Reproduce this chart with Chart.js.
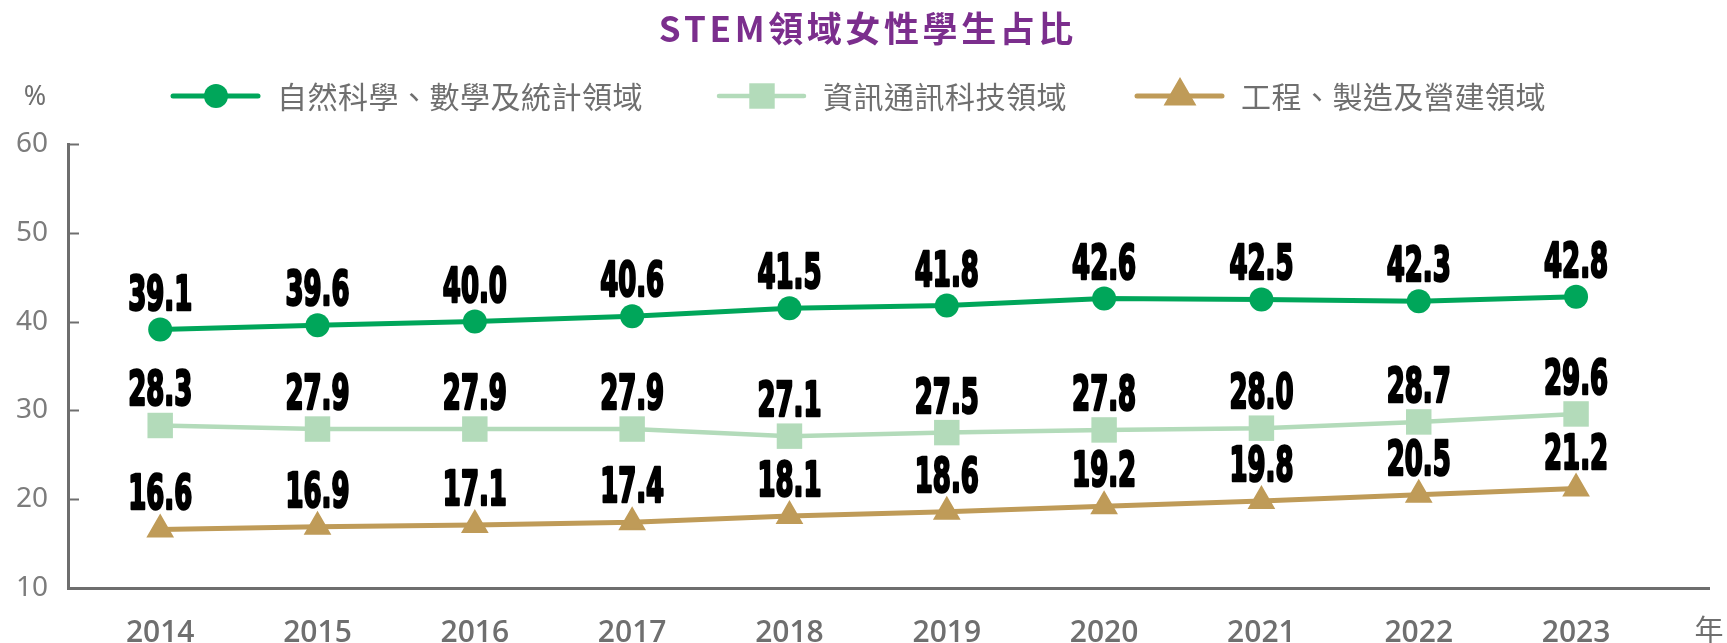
<!DOCTYPE html>
<html lang="zh-Hant">
<head>
<meta charset="utf-8">
<title>STEM領域女性學生占比</title>
<script src="https://cdn.jsdelivr.net/npm/chart.js@4.4.0/dist/chart.umd.min.js"></script>
<style>
  html, body { margin: 0; padding: 0; background: #fff; }
  #wrap { position: relative; width: 1727px; height: 643px; }
</style>
</head>
<body>
<div id="wrap"><canvas id="grafica"></canvas></div>
<script>
// datos de la gráfica
const years = [2014, 2015, 2016, 2017, 2018, 2019, 2020, 2021, 2022, 2023];
const sciMathStat = [39.1, 39.6, 40.0, 40.6, 41.5, 41.8, 42.6, 42.5, 42.3, 42.8];
const ictShare = [28.3, 27.9, 27.9, 27.9, 27.1, 27.5, 27.8, 28.0, 28.7, 29.6];
const engBuildShare = [16.6, 16.9, 17.1, 17.4, 18.1, 18.6, 19.2, 19.8, 20.5, 21.2];
const seriesNames = ["自然科學、數學及統計領域", "資訊通訊科技領域", "工程、製造及營建領域"];
const yTicks = [10, 20, 30, 40, 50, 60];
const chartTitle = "STEM領域女性學生占比";
const yUnit = "%";
const xUnit = "年";

const GRIS_EJE = "#6e6e6e";
const GRIS_TEXTO = "#6f6f6f";
const CJK = '"Noto Sans CJK TC", "Noto Sans CJK SC", sans-serif';

const pares = vals => years.map((yr, i) => ({ x: yr, y: vals[i] }));

// texto con espaciado entre letras, carácter por carácter
function textoEspaciado(ctx, txt, x, y, esp, alinear) {
    const chars = Array.from(txt);
    const anchos = chars.map(c => ctx.measureText(c).width);
    const total = anchos.reduce((a, b) => a + b, 0) + esp * (chars.length - 1);
    let cx = alinear === "center" ? x - total / 2 : x;
    ctx.save();
    ctx.textAlign = "left";
    chars.forEach((c, i) => {
        ctx.fillText(c, cx, y);
        cx += anchos[i] + esp;
    });
    ctx.restore();
}

// Título, leyenda y unidades
const decoracion = {
    id: "decoracion",
    afterDraw(chart) {
        const ctx = chart.ctx;
        ctx.save();
        ctx.textBaseline = "middle";

        // título
        ctx.fillStyle = "#7b2e8d";
        ctx.font = "bold 35px " + CJK;
        textoEspaciado(ctx, chartTitle, 866, 29, 3.6, "center");

        // unidad del eje Y
        ctx.fillStyle = GRIS_TEXTO;
        ctx.textAlign = "center";
        ctx.font = '27px "Noto Sans"';
        ctx.fillText(yUnit, 35, 97);

        // unidad del eje X
        ctx.font = "29px " + CJK;
        ctx.fillText(xUnit, 1709, 630);

        // leyenda: línea + marcador + texto
        const inicios = [173, 719, 1137];
        const ly = 96;
        chart.data.datasets.forEach((ds, i) => {
            const x0 = inicios[i];
            ctx.strokeStyle = ds.borderColor;
            ctx.lineWidth = ds.borderWidth;
            ctx.lineCap = "round";
            ctx.beginPath();
            ctx.moveTo(x0, ly);
            ctx.lineTo(x0 + 85, ly);
            ctx.stroke();

            ctx.fillStyle = ds.backgroundColor;
            ctx.strokeStyle = ds.pointBorderColor || ds.borderColor;
            Chart.helpers.drawPoint(ctx, {
                pointStyle: ds.pointStyle,
                radius: ds.pointRadius,
                rotation: 0,
                borderWidth: ds.pointBorderWidth
            }, x0 + 43, ly);

            ctx.fillStyle = GRIS_TEXTO;
            ctx.font = "30px " + CJK;
            textoEspaciado(ctx, ds.label, x0 + 104, ly + 1, 0.5, "left");
        });

        // marcas del eje Y hacia dentro
        const ys = chart.scales.y;
        ctx.strokeStyle = GRIS_EJE;
        ctx.lineWidth = 2;
        ctx.lineCap = "butt";
        ys.ticks.forEach(t => {
            const py = Math.round(ys.getPixelForValue(t.value)) + 0.5;
            ctx.beginPath();
            ctx.moveTo(ys.right, py);
            ctx.lineTo(ys.right + 11, py);
            ctx.stroke();
        });

        ctx.restore();
    }
};

// Valores encima de cada punto (fuente condensada y gruesa)
const etiquetas = {
    id: "etiquetas",
    afterDatasetsDraw(chart) {
        const ctx = chart.ctx;
        ctx.save();
        ctx.font = 'bold 48px "DejaVu Sans Condensed", "DejaVu Sans"';
        const escala = 64 / ctx.measureText("28.3").width;
        ctx.fillStyle = "#000";
        ctx.strokeStyle = "#000";
        ctx.lineWidth = 2.6;
        ctx.lineJoin = "round";
        ctx.textAlign = "center";
        ctx.textBaseline = "alphabetic";
        chart.data.datasets.forEach((ds, i) => {
            const meta = chart.getDatasetMeta(i);
            meta.data.forEach((pt, j) => {
                const txt = ds.data[j].y.toFixed(1);
                ctx.save();
                ctx.translate(pt.x, pt.y - 20);
                ctx.scale(escala, 1);
                ctx.fillText(txt, 0, 0);
                ctx.strokeText(txt, 0, 0);
                ctx.restore();
            });
        });
        ctx.restore();
    }
};

const ctx = document.getElementById("grafica").getContext("2d");

new Chart(ctx, {
    type: "line",
    data: {
        datasets: [
            {
                label: seriesNames[0],
                data: pares(sciMathStat),
                borderColor: "#00a65a",
                backgroundColor: "#00a65a",
                borderWidth: 5,
                pointStyle: "circle",
                pointRadius: 12,
                pointBorderWidth: 0
            },
            {
                label: seriesNames[1],
                data: pares(ictShare),
                borderColor: "#b3dbba",
                backgroundColor: "#b3dbba",
                borderWidth: 4.5,
                pointStyle: "rect",
                pointRadius: 18,
                pointBorderWidth: 0
            },
            {
                label: seriesNames[2],
                data: pares(engBuildShare),
                borderColor: "#bf9b58",
                backgroundColor: "#bf9b58",
                pointBorderColor: "#bf9b58",
                borderWidth: 5,
                pointStyle: "triangle",
                pointRadius: 14,
                pointBorderWidth: 2
            }
        ]
    },
    options: {
        responsive: true,
        maintainAspectRatio: false,
        animation: false,
        devicePixelRatio: 1,
        layout: { padding: { top: 144, left: 0, right: 4, bottom: 0 } },
        elements: { line: { tension: 0 } },
        plugins: {
            legend: { display: false },
            title: { display: false },
            tooltip: { enabled: false }
        },
        scales: {
            x: {
                type: "linear",
                min: 2013.414,
                max: 2023.845,
                afterBuildTicks: s => { s.ticks = years.map(v => ({ value: v })); },
                afterFit: s => { s.height = 55; },
                grid: { display: false, drawTicks: false },
                border: { display: true, color: GRIS_EJE, width: 3 },
                ticks: {
                    padding: 27,
                    color: GRIS_TEXTO,
                    font: { family: '"Open Sans", "Noto Sans"', size: 30, weight: 600 },
                    callback: v => String(v),
                    maxRotation: 0,
                    autoSkip: false
                }
            },
            y: {
                min: 10,
                max: 60,
                afterBuildTicks: s => { s.ticks = yTicks.map(v => ({ value: v })); },
                afterFit: s => { s.width = 68; },
                grid: { display: false, drawTicks: false },
                border: { display: true, color: GRIS_EJE, width: 3 },
                ticks: {
                    padding: 20,
                    color: "#7c7c7c",
                    font: { family: '"Noto Sans"', size: 28 }
                }
            }
        }
    },
    plugins: [etiquetas, decoracion]
});
</script>
</body>
</html>
